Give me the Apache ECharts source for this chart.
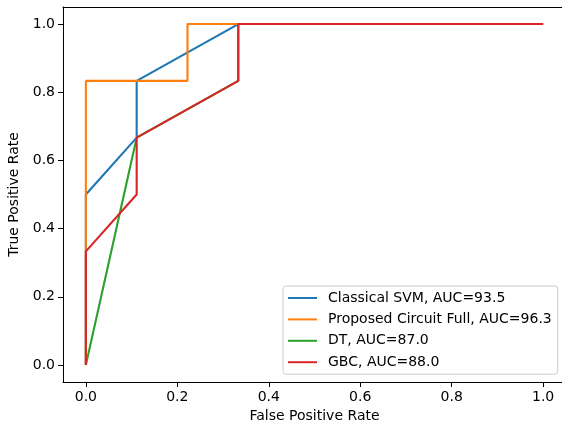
<!DOCTYPE html>
<html>
<head>
<meta charset="utf-8">
<script src="https://cdn.jsdelivr.net/npm/echarts@6/dist/echarts.min.js"></script>
<style>html,body{margin:0;padding:0;background:#fff}#c{width:562px;height:425px}</style>
</head>
<body>
<div id="c"></div>
<script>
const tickValues = [0, 0.2, 0.4, 0.6, 0.8, 1.0];
const seriesNames = ['Classical SVM, AUC=93.5', 'Proposed Circuit Full, AUC=96.3', 'DT, AUC=87.0', 'GBC, AUC=88.0'];
const colors = ['#1f77b4', '#ff7f0e', '#2ca02c', '#d62728'];
const svmFpr = [0, 0, 0.1111, 0.1111, 0.3333, 1];
const svmTpr = [0, 0.5, 0.6667, 0.8333, 1, 1];
const propFpr = [0, 0, 0.2222, 0.2222, 1];
const propTpr = [0, 0.8333, 0.8333, 1, 1];
const dtFpr = [0, 0.1111, 0.3333, 0.3333, 1];
const dtTpr = [0, 0.6667, 0.8333, 1, 1];
const gbcFpr = [0, 0, 0.1111, 0.1111, 0.3333, 0.3333, 1];
const gbcTpr = [0, 0.3333, 0.5, 0.6667, 0.8333, 1, 1];

const fprs = [svmFpr, propFpr, dtFpr, gbcFpr];
const tprs = [svmTpr, propTpr, dtTpr, gbcTpr];
const FONT = 'DejaVu Sans';
const FS = 14;

const series = seriesNames.map((n, i) => ({
  name: n,
  type: 'line',
  symbol: 'none',
  data: fprs[i].map((x, j) => [x, tprs[i][j]]),
  lineStyle: { color: colors[i], width: 2.1 },
  itemStyle: { color: colors[i] },
  z: 2 + i,
  animation: false
}));

const chart = echarts.init(document.getElementById('c'));
chart.setOption({
  animation: false,
  grid: { left: 63, top: 7, width: 503, height: 375, containLabel: false, outerBoundsMode: 'none' },
  xAxis: [{
    type: 'value', min: -0.05, max: 1.05, position: 'bottom',
    name: 'False Positive Rate', nameLocation: 'middle', nameGap: 27,
    nameTextStyle: { fontFamily: FONT, fontSize: FS, color: '#000' },
    axisLine: { show: true, onZero: false, lineStyle: { color: '#000', width: 1 } },
    axisTick: { show: true, length: 5, customValues: tickValues, lineStyle: { color: '#000', width: 1 } },
    axisLabel: { customValues: tickValues, margin: 8, fontFamily: FONT, fontSize: FS, color: '#000', formatter: v => v.toFixed(1) },
    splitLine: { show: false }
  }, {
    type: 'value', min: -0.05, max: 1.05, position: 'top',
    axisLine: { show: true, onZero: false, lineStyle: { color: '#000', width: 1 } },
    axisTick: { show: false }, axisLabel: { show: false }, splitLine: { show: false }
  }],
  yAxis: [{
    type: 'value', min: -0.05, max: 1.05, position: 'left',
    name: 'True Positive Rate', nameLocation: 'middle', nameGap: 41,
    nameTextStyle: { fontFamily: FONT, fontSize: FS, color: '#000' },
    axisLine: { show: true, onZero: false, lineStyle: { color: '#000', width: 1 } },
    axisTick: { show: true, length: 5, customValues: tickValues, lineStyle: { color: '#000', width: 1 } },
    axisLabel: { customValues: tickValues, margin: 8, fontFamily: FONT, fontSize: FS, color: '#000', formatter: v => v.toFixed(1) },
    splitLine: { show: false }
  }, {
    type: 'value', min: -0.05, max: 1.05, position: 'right',
    axisLine: { show: true, onZero: false, lineStyle: { color: '#000', width: 1 } },
    axisTick: { show: false }, axisLabel: { show: false }, splitLine: { show: false }
  }],
  legend: {
    orient: 'vertical', left: 283, top: 286,
    padding: [5, 6, 5, 5],
    itemGap: 7.4, itemWidth: 29, itemHeight: 14,
    icon: 'path://M0,6 L29,6 L29,8 L0,8 Z',
    backgroundColor: 'rgba(255,255,255,0.8)',
    borderColor: '#cccccc', borderWidth: 1, borderRadius: 3,
    textStyle: { fontFamily: FONT, fontSize: FS, color: '#000', padding: [0, 0, 0, 6] },
    data: seriesNames
  },
  series: series
});
</script>
</body>
</html>
